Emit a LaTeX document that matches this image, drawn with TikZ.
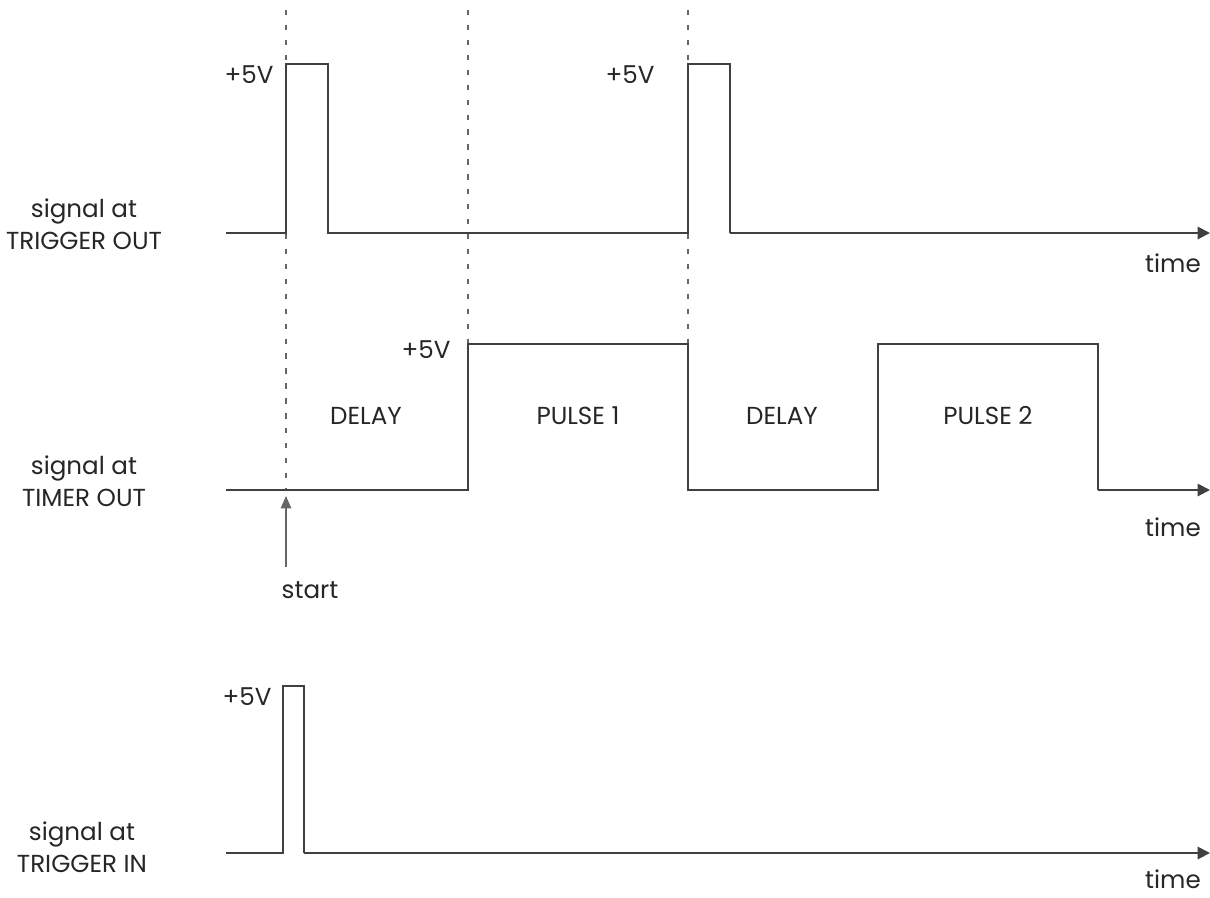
\documentclass[tikz,border=0pt]{standalone}
\usepackage{fontspec}
\setmainfont{Poppins}
\usetikzlibrary{arrows.meta}

\begin{document}
\begin{tikzpicture}[x=0.02cm, y=-0.02cm,
    sig/.style={draw=black!75, line width=1.1pt, line join=miter},
    axis/.style={sig, -{Triangle[length=7pt,width=7pt]}},
    guide/.style={draw=black!60, line width=0.8pt, dash pattern=on 3pt off 5.5pt},
    txt/.style={font=\fontsize{14}{18}\selectfont, text=black!85, inner sep=0pt},
    signame/.style={txt, align=center}]
    \useasboundingbox (0,0) rectangle (1210,897);

    % guide lines
    \draw[guide] (286,10) -- (286,490);
    \draw[guide] (468,10) -- (468,490);
    \draw[guide] (688,10) -- (688,490);

    % signal at TRIGGER OUT
    \node[signame] (lto) at (84,224) {signal at\\TRIGGER OUT};
    \draw[sig] (226,233) -- (286,233) -- (286,64) -- (328,64) -- (328,233)
        -- (688,233) -- (688,64) -- (730,64) -- (730,233);
    \draw[axis] (730,233) -- (1210,233);
    \node[txt] (vo1) at (249,75) {+5V};
    \node[txt] (vo2) at (630,75) {+5V};
    \node[txt] (to) at (1173,263) {time};

    % signal at TIMER OUT
    \node[signame] (ltm) at (84,481) {signal at\\TIMER OUT};
    \draw[sig] (226,490) -- (468,490) -- (468,344) -- (688,344) -- (688,490)
        -- (878,490) -- (878,344) -- (1098,344) -- (1098,490);
    \draw[axis] (1098,490) -- (1210,490);
    \node[txt] (vm) at (426,350) {+5V};
    \node[txt] (d1) at (366,416) {DELAY};
    \node[txt] (p1) at (578,416) {PULSE 1};
    \node[txt] (d2) at (782,416) {DELAY};
    \node[txt] (p2) at (988,416) {PULSE 2};
    \node[txt] (tm) at (1173,527) {time};

    % start marker
    \coordinate (s0) at (286,567);
    \coordinate (s1) at (286,496);
    \draw[draw=black!60, line width=0.6pt, -{Triangle[length=7pt,width=6pt]}] (s0) -- (s1);
    \node[txt] (st) at (310,590) {start};

    % signal at TRIGGER IN
    \node[signame] (lti) at (82,847) {signal at\\TRIGGER IN};
    \draw[sig] (226,853) -- (283,853) -- (283,686) -- (304,686) -- (304,853);
    \draw[axis] (304,853) -- (1210,853);
    \node[txt] (vi) at (247,697) {+5V};
    \node[txt] (ti) at (1173,879) {time};
\end{tikzpicture}
\end{document}
